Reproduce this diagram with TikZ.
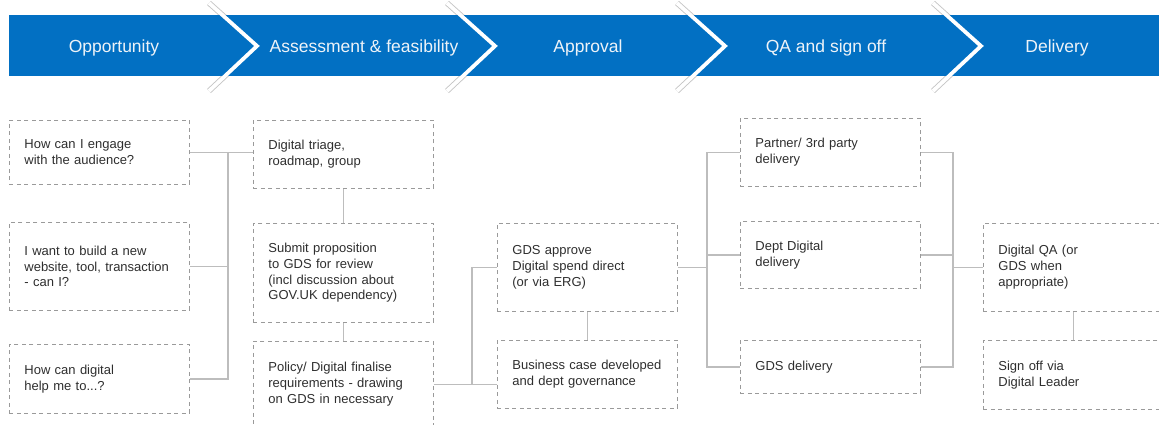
\documentclass[tikz,border=0pt]{standalone}
\usepackage{fontspec}
\setmainfont{Liberation Sans}
\usetikzlibrary{positioning}
\definecolor{govblue}{HTML}{0270C3}
\definecolor{bartext}{HTML}{EEF3F8}
\definecolor{boxline}{HTML}{9A9A9A}
\definecolor{boxtext}{HTML}{2E2E2E}
\definecolor{wirecol}{HTML}{BDBDBD}

\begin{document}
\begin{tikzpicture}[x=1pt,y=-1pt,
  stagelabel/.style={text=bartext,font=\fontsize{17.5}{20}\selectfont,inner sep=0pt,anchor=base},
  qbox/.style={rectangle,draw=boxline,dash pattern=on 4pt off 3.5pt,line width=0.8pt,minimum width=180pt,text width=150pt,inner xsep=15pt,inner ysep=0pt,align=left,text=boxtext,font=\fontsize{13}{15.8}\selectfont,anchor=north west},
  wire/.style={draw=wirecol,line width=1.6pt}]
\useasboundingbox (0,0) rectangle (1159,425);

% stage bar with chevrons
\foreach \t in {257,495,725,981}
  \draw[gray!45,line width=5.6pt] (\t-48,3) -- (\t,46) -- (\t-48,91);
\fill[govblue] (9,15) rectangle (1159,76);
\foreach \t in {257,495,725,981}
  \draw[white,line width=3.8pt] (\t-48,3) -- (\t,46) -- (\t-48,91);
\node[stagelabel] (h1) at (114,53) {Opportunity};
\node[stagelabel] (h2) at (364,53) {Assessment \& feasibility};
\node[stagelabel] (h3) at (588,53) {Approval};
\node[stagelabel] (h4) at (826,53) {QA and sign off};
\node[stagelabel] (h5) at (1057,53) {Delivery};

% opportunity
\node[qbox,minimum height=64pt] (o1) at (9,120) {How can I engage\\with the audience?};
\node[qbox,minimum height=88pt] (o2) at (9,222) {I want to build a new\\website, tool, transaction\\- can I?};
\node[qbox,minimum height=69pt] (o3) at (9,344) {How can digital\\help me to...?};

% assessment
\node[qbox,minimum height=68pt] (a1) at (253,120) {Digital triage,\\roadmap, group};
\node[qbox,minimum height=99pt] (a2) at (253,223) {Submit proposition\\to GDS for review\\(incl discussion about\\GOV.UK dependency)};
\node[qbox,minimum height=86pt] (a3) at (253,341) {Policy/ Digital finalise\\requirements - drawing\\on GDS in necessary};

% approval
\node[qbox,minimum height=88pt] (p1) at (497,223) {GDS approve\\Digital spend direct\\(or via ERG)};
\node[qbox,minimum height=68pt] (p2) at (497,340) {Business case developed\\and dept governance};

% qa
\node[qbox,minimum height=68pt] (q1) at (740,118) {Partner/ 3rd party\\delivery};
\node[qbox,minimum height=67pt] (q2) at (740,221) {Dept Digital\\delivery};
\node[qbox,minimum height=53pt] (q3) at (740,340) {GDS delivery};

% delivery
\node[qbox,minimum height=88pt] (d1) at (983,223) {Digital QA (or\\GDS when\\appropriate)};
\node[qbox,minimum height=69pt] (d2) at (983,340) {Sign off via\\Digital Leader};

% links
\coordinate (jo) at (228,0);
\coordinate (ja) at (472,0);
\coordinate (jp) at (707,0);
\coordinate (jq) at (953,0);
\draw[wire] (o1.east) -| (jo |- o3.east) -- (o3.east);
\draw[wire] (o2.east) -- (o2.east -| jo);
\draw[wire] (o1.east) -- (o1.east -| a1.west);
\draw[wire] (a1.south) -- (a2.north);
\draw[wire] (a2.south) -- (a3.north);
\draw[wire] (a3.east) -- (a3.east -| p2.west);
\draw[wire] (a3.east -| ja) |- (p1.west);
\draw[wire] (p1.south) -- (p2.north);
\draw[wire] (q1.west) -| (jp |- q3.west) -- (q3.west);
\draw[wire] (q2.west) -- (q2.west -| jp);
\draw[wire] (p1.east) -- (p1.east -| jp);
\draw[wire] (q1.east) -| (jq |- q3.east) -- (q3.east);
\draw[wire] (q2.east) -- (q2.east -| jq);
\draw[wire] (d1.west -| jq) -- (d1.west);
\draw[wire] (d1.south) -- (d2.north);
\end{tikzpicture}
\end{document}
